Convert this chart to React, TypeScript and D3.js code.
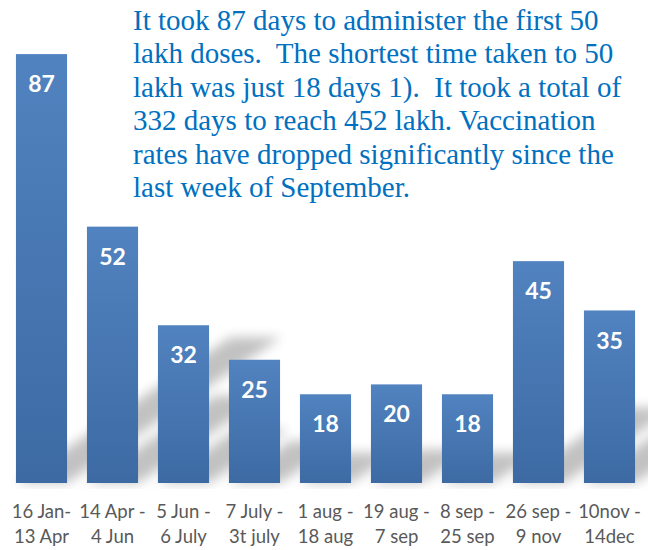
import * as d3 from 'd3'

const LINE1 = ['16 Jan-', '14 Apr -', '5 Jun -', '7 July -', '1 aug -', '19 aug -', '8 sep -', '26 sep -', '10nov -']
const LINE2 = ['13 Apr', '4 Jun', '6 July', '3t july', '18 aug', '7 sep', '25 sep', '9 nov', '14dec']
const DAYS = [87, 52, 32, 25, 18, 20, 18, 45, 35]

const NOTE = [
  'It took 87 days to administer the first 50',
  'lakh doses.  The shortest time taken to 50',
  'lakh was just 18 days 1).  It took a total of',
  '332 days to reach 452 lakh. Vaccination',
  'rates have dropped significantly since the',
  'last week of September.',
]

const W = 653
const H = 550
const BASE = 483
const LABEL_FONT = "Lato, 'Open Sans', sans-serif"
const NOTE_COLOR = '#0070C0'
const AXIS_TEXT = '#595959'

export default function App() {
  const x = d3.scaleBand<number>()
    .domain(d3.range(DAYS.length))
    .range([6, 645])
    .paddingInner(0.28)
    .paddingOuter(0.14)
  const y = d3.scaleLinear().domain([0, 100]).range([BASE, -10])
  const bw = x.bandwidth()

  // perspective shadow: leans up and right from each bar's base
  const shadowPath = (i: number) => {
    const x0 = x(i)!
    const h = BASE - y(DAYS[i])
    const dx = h * 0.5
    const dy = h * 0.34
    const p = d3.path()
    p.moveTo(x0, BASE)
    p.lineTo(x0 + bw, BASE)
    p.lineTo(x0 + bw + dx, BASE - dy)
    p.lineTo(x0 + dx, BASE - dy)
    p.closePath()
    return p.toString()
  }

  return (
    <div style={{ position: 'fixed', left: 0, top: 0 }}>
      <svg width={W} height={H} style={{ display: 'block', background: '#fff' }}>
        <defs>
          <linearGradient id="bar-grad" x1="0" x2="0" y1="0" y2="1">
            <stop offset="0%" stopColor="#5183C0" />
            <stop offset="100%" stopColor="#3D6AA3" />
          </linearGradient>
          <filter id="blur" x="-50%" y="-50%" width="200%" height="200%">
            <feGaussianBlur stdDeviation="6" />
          </filter>
          <clipPath id="plot-clip">
            <rect x={0} y={0} width={648} height={BASE + 6} />
          </clipPath>
        </defs>

        <g clipPath="url(#plot-clip)">
          <g filter="url(#blur)" fill="#000" opacity={0.24}>
            {DAYS.map((_, i) => (
              <path key={i} d={shadowPath(i)} />
            ))}
          </g>
        </g>

        {DAYS.map((d, i) => (
          <g key={i}>
            <rect x={x(i)} y={y(d)} width={bw} height={BASE - y(d)} fill="url(#bar-grad)" />
            <text
              x={x(i)! + bw / 2}
              y={y(d) + 30}
              dy="0.35em"
              textAnchor="middle"
              fill="#fff"
              fontFamily={LABEL_FONT}
              fontWeight={700}
              fontSize={23}
            >
              {d}
            </text>
          </g>
        ))}

        {LINE1.map((t, i) => (
          <text
            key={i}
            x={x(i)! + bw / 2}
            textAnchor="middle"
            fill={AXIS_TEXT}
            fontFamily={LABEL_FONT}
            fontSize={18.5}
          >
            <tspan x={x(i)! + bw / 2} y={518}>{t}</tspan>
            <tspan x={x(i)! + bw / 2} y={543}>{LINE2[i]}</tspan>
          </text>
        ))}

        <text
          fill={NOTE_COLOR}
          fontFamily="'Liberation Serif', 'Times New Roman', serif"
          fontSize={29}
          style={{ whiteSpace: 'pre' }}
        >
          {NOTE.map((line, i) => (
            <tspan key={i} x={133} y={30 + i * 33.4}>{line}</tspan>
          ))}
        </text>
      </svg>
    </div>
  )
}
